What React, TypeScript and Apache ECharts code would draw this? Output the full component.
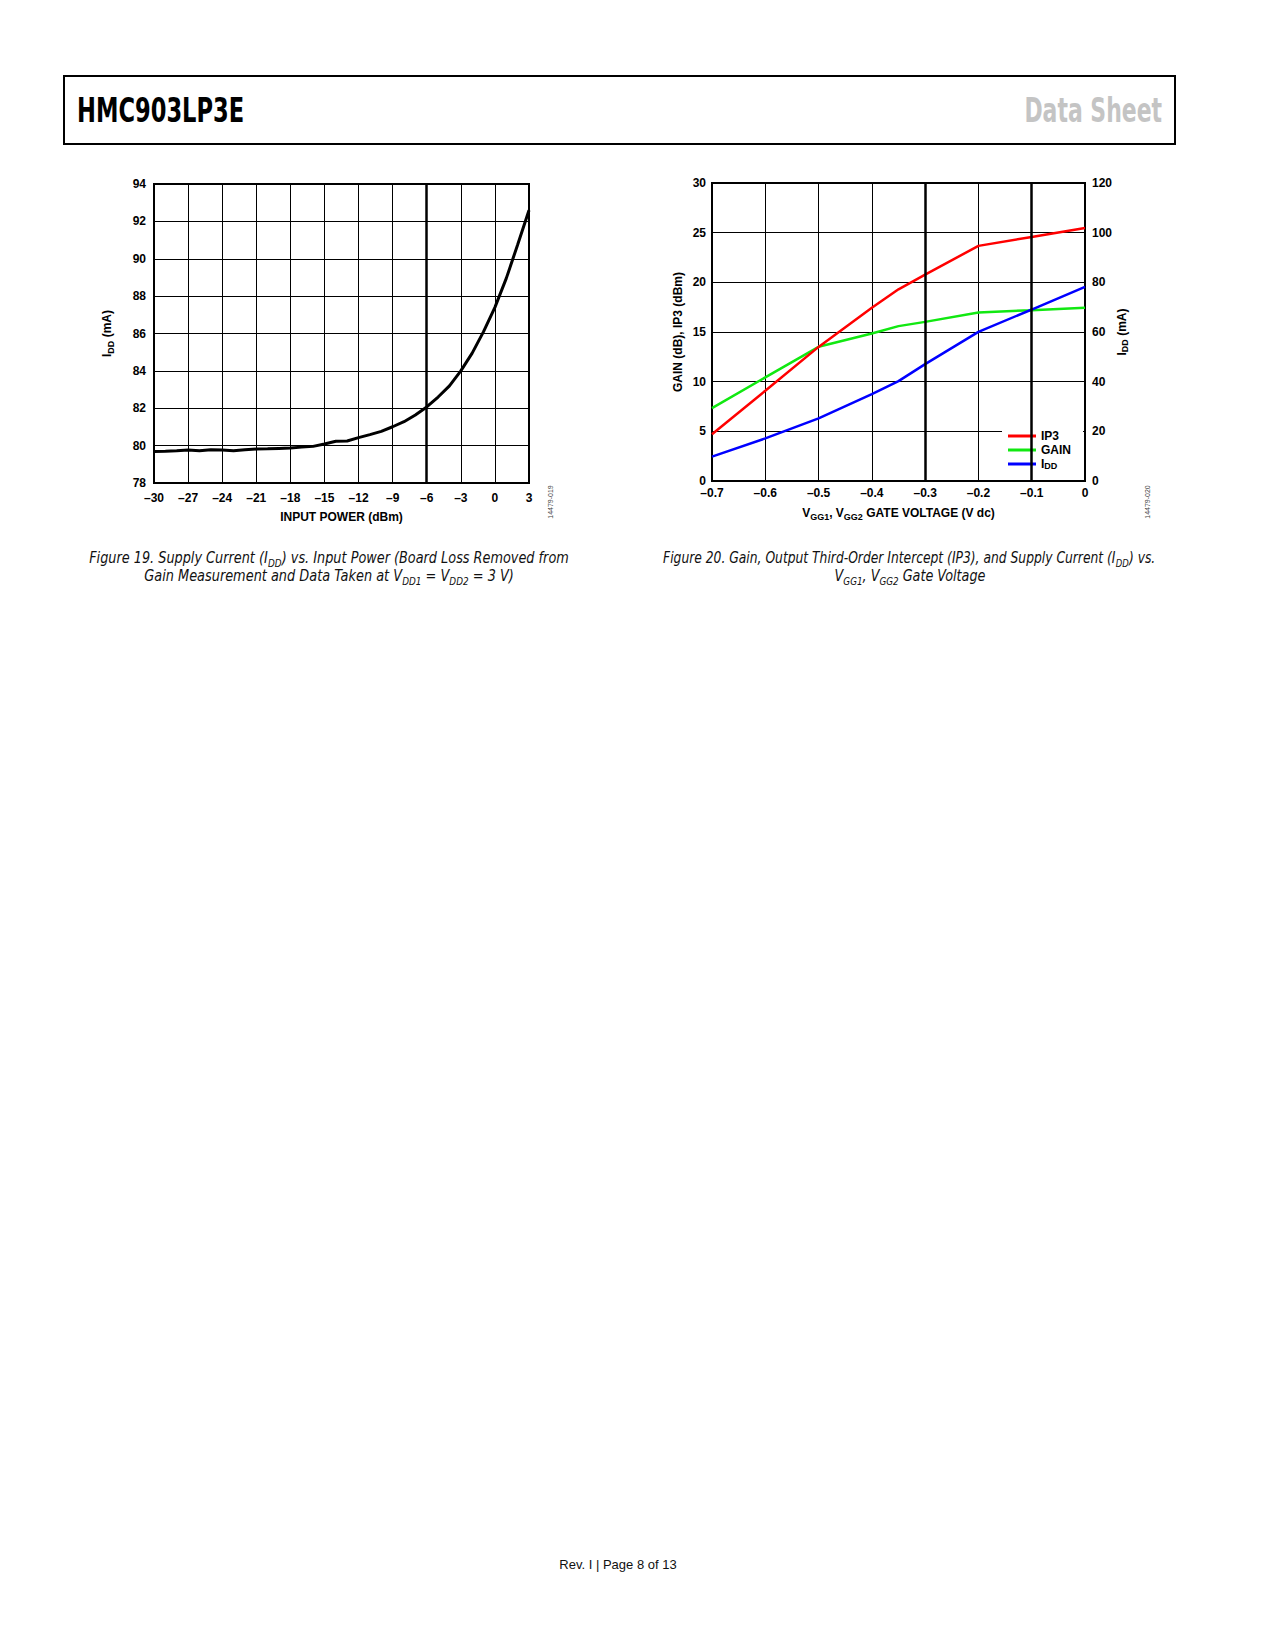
import { useEffect, useRef } from 'react';
import * as echarts from 'echarts';

// Figure 19: supply current vs input power
const powerIn = [
  -30, -29, -28, -27, -26, -25, -24, -23, -22, -21, -20, -19, -18, -17, -16, -15, -14,
  -13, -12, -11, -10, -9, -8, -7, -6, -5, -4, -3, -2, -1, 0, 1, 2, 3,
];
const iddVsPower = [
  79.69, 79.7, 79.72, 79.76, 79.72, 79.78, 79.76, 79.73, 79.78, 79.82, 79.83, 79.85, 79.87,
  79.92, 79.96, 80.09, 80.23, 80.25, 80.43, 80.59, 80.76, 81.01, 81.28, 81.64, 82.07, 82.6,
  83.2, 84.0, 84.95, 86.1, 87.4, 88.95, 90.75, 92.6,
];

// Figure 20: gain, IP3 and IDD vs gate voltage
const gateV = [-0.7, -0.6, -0.5, -0.4, -0.35, -0.3, -0.2, -0.1, 0];
const ip3 = [4.7, 9.08, 13.5, 17.45, 19.3, 20.78, 23.67, 24.57, 25.48];
const gain = [7.34, 10.43, 13.51, 14.85, 15.59, 16.02, 16.96, 17.2, 17.45];
const iddVsGate = [9.8, 17.16, 25.2, 35.0, 40.2, 47.06, 60.07, 69.05, 78.17];

const FONT = '"Liberation Sans", Arial, sans-serif';
const NARROW = '"DejaVu Sans Condensed", "DejaVu Sans", sans-serif';

const rich = {
  m: { fontFamily: FONT, fontWeight: 'bold', fontSize: 12, color: '#000', lineHeight: 16 },
  s: { fontFamily: FONT, fontWeight: 'bold', fontSize: 9, color: '#000', lineHeight: 9, verticalAlign: 'bottom' },
};
const capRich = {
  m: { fontFamily: NARROW, fontStyle: 'italic', fontSize: 16, fill: '#111', lineHeight: 20 },
  s: { fontFamily: NARROW, fontStyle: 'italic', fontSize: 11, fill: '#111', lineHeight: 11, verticalAlign: 'bottom' },
};

const dash = (v: number, digits: number) =>
  v === 0 ? '0' : (v < 0 ? '\u2013' : '') + Math.abs(v).toFixed(digits);

const labelStyle = { fontFamily: FONT, fontWeight: 'bold' as const, fontSize: 12, color: '#000' };
const thin = { show: true, lineStyle: { color: '#000', width: 1 } };

const caption = (x: number, y: number, text: string, scaleX: number) => ({
  type: 'text', x, y, scaleX,
  style: { text, rich: capRich, align: 'center', verticalAlign: 'middle' },
});

export default function App() {
  const ref = useRef<HTMLDivElement>(null);

  useEffect(() => {
    if (!ref.current) return;
    const chart = echarts.init(ref.current, null, { renderer: 'svg' });
    chart.setOption({
      animation: false,
      backgroundColor: '#fff',
      grid: [
        { left: 154, top: 184, width: 375, height: 299, show: true, borderColor: '#000', borderWidth: 2, backgroundColor: 'transparent' },
        { left: 712, top: 183, width: 373, height: 298, show: true, borderColor: '#000', borderWidth: 2, backgroundColor: 'transparent' },
      ],
      xAxis: [
        {
          gridIndex: 0, type: 'value', min: -30, max: 3, interval: 3,
          axisLine: { show: false }, axisTick: { show: false }, splitLine: thin,
          axisLabel: { ...labelStyle, margin: 9, formatter: (v: number) => dash(v, 0) },
          name: 'INPUT POWER (dBm)', nameLocation: 'middle', nameGap: 28,
          nameTextStyle: { ...labelStyle },
        },
        {
          gridIndex: 1, type: 'value', min: -0.7, max: 0, interval: 0.1,
          axisLine: { show: false }, axisTick: { show: false }, splitLine: thin,
          axisLabel: { ...labelStyle, margin: 6, formatter: (v: number) => dash(v, 1) },
          name: '{m|V}{s|GG1}{m|, V}{s|GG2}{m| GATE VOLTAGE (V dc)}', nameLocation: 'middle', nameGap: 24,
          nameTextStyle: { rich },
        },
      ],
      yAxis: [
        {
          gridIndex: 0, type: 'value', min: 78, max: 94, interval: 2,
          axisLine: { show: false }, axisTick: { show: false }, splitLine: thin,
          axisLabel: { ...labelStyle, margin: 8 },
          name: '{m|I}{s|DD}{m| (mA)}', nameLocation: 'middle', nameRotate: 90, nameGap: 39,
          nameTextStyle: { rich },
        },
        {
          gridIndex: 1, type: 'value', min: 0, max: 30, interval: 5,
          axisLine: { show: false }, axisTick: { show: false }, splitLine: thin,
          axisLabel: { ...labelStyle, margin: 6 },
          name: 'GAIN (dB), IP3 (dBm)', nameLocation: 'middle', nameRotate: 90, nameGap: 28,
          nameTextStyle: { ...labelStyle },
        },
        {
          gridIndex: 1, type: 'value', min: 0, max: 120, interval: 20, position: 'right',
          axisLine: { show: false }, axisTick: { show: false }, splitLine: { show: false },
          axisLabel: { ...labelStyle, margin: 7 },
          name: '{m|I}{s|DD}{m| (mA)}', nameLocation: 'middle', nameRotate: 90, nameGap: 28,
          nameTextStyle: { rich },
        },
      ],
      legend: {
        data: ['IP3', 'GAIN', 'IDD'],
        orient: 'vertical',
        left: 1002,
        top: 426,
        backgroundColor: '#fff',
        padding: [4, 12, 5, 6],
        itemGap: 2,
        itemWidth: 28,
        itemHeight: 3,
        icon: 'rect',
        itemTextGap: 6,
        formatter: (n: string) => (n === 'IDD' ? '{m|I}{s|DD}' : '{m|' + n + '}'),
        textStyle: {
          rich: {
            m: { ...rich.m, lineHeight: 13 },
            s: { ...rich.s },
          },
        },
      },
      series: [
        {
          name: 'IDD vs Pin', type: 'line', xAxisIndex: 0, yAxisIndex: 0,
          data: powerIn.map((p, i) => [p, iddVsPower[i]]),
          showSymbol: false,
          lineStyle: { color: '#000', width: 3 },
          itemStyle: { color: '#000' },
          markLine: {
            silent: true, symbol: 'none', label: { show: false },
            lineStyle: { color: '#000', width: 2.5, type: 'solid' },
            data: [{ xAxis: -6 }],
          },
        },
        {
          name: 'GAIN', type: 'line', xAxisIndex: 1, yAxisIndex: 1,
          data: gateV.map((v, i) => [v, gain[i]]),
          showSymbol: false,
          lineStyle: { color: '#11e811', width: 2.5 },
          itemStyle: { color: '#11e811' },
          markLine: {
            silent: true, symbol: 'none', label: { show: false },
            lineStyle: { color: '#000', width: 2.5, type: 'solid' },
            data: [{ xAxis: -0.3 }, { xAxis: -0.1 }],
          },
        },
        {
          name: 'IP3', type: 'line', xAxisIndex: 1, yAxisIndex: 1,
          data: gateV.map((v, i) => [v, ip3[i]]),
          showSymbol: false,
          lineStyle: { color: '#ff0000', width: 2.5 },
          itemStyle: { color: '#ff0000' },
        },
        {
          name: 'IDD', type: 'line', xAxisIndex: 1, yAxisIndex: 2,
          data: gateV.map((v, i) => [v, iddVsGate[i]]),
          showSymbol: false,
          lineStyle: { color: '#0000ff', width: 2.5 },
          itemStyle: { color: '#0000ff' },
        },
      ],
      graphic: [
        {
          type: 'rect', shape: { x: 64, y: 76, width: 1111, height: 68 },
          style: { fill: 'none', stroke: '#000', lineWidth: 2 },
        },
        {
          type: 'text', x: 77, y: 111, scaleX: 0.685,
          style: { text: 'HMC903LP3E', font: 'bold 33px "DejaVu Sans", sans-serif', fill: '#000', verticalAlign: 'middle' },
        },
        {
          type: 'text', x: 1162, y: 111, scaleX: 0.665,
          style: { text: 'Data Sheet', font: 'bold 33px "DejaVu Sans", sans-serif', fill: '#c4c4c4', align: 'right', verticalAlign: 'middle' },
        },
        {
          type: 'text', x: 550, y: 502, rotation: Math.PI / 2,
          style: { text: '14479-019', font: '7px ' + FONT, fill: '#444', align: 'center', verticalAlign: 'middle' },
        },
        {
          type: 'text', x: 1147, y: 502, rotation: Math.PI / 2,
          style: { text: '14479-020', font: '7px ' + FONT, fill: '#444', align: 'center', verticalAlign: 'middle' },
        },
        caption(329, 558, '{m|Figure 19. Supply Current (I}{s|DD}{m|) vs. Input Power (Board Loss Removed from}', 0.894),
        caption(329, 576, '{m|Gain Measurement and Data Taken at V}{s|DD1}{m| = V}{s|DD2}{m| = 3 V)}', 0.897),
        caption(909, 558, '{m|Figure 20. Gain, Output Third-Order Intercept (IP3), and Supply Current (I}{s|DD}{m|) vs.}', 0.857),
        caption(910, 576, '{m|V}{s|GG1}{m|, V}{s|GG2}{m| Gate Voltage}', 0.888),
        {
          type: 'text', x: 618, y: 1564,
          style: { text: 'Rev. I | Page 8 of 13', font: '13px ' + FONT, fill: '#111', align: 'center', verticalAlign: 'middle' },
        },
      ],
    });
    return () => chart.dispose();
  }, []);

  return (
    <div
      ref={ref}
      style={{ position: 'absolute', left: 0, top: 0, width: 1275, height: 1650, background: '#fff' }}
    />
  );
}
